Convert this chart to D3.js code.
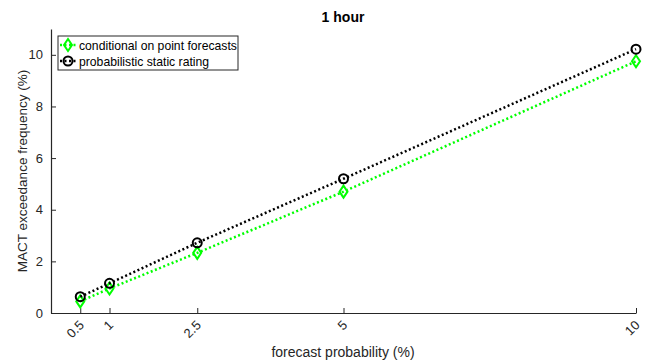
<!DOCTYPE html>
<html>
<head>
<meta charset="utf-8">
<script src="https://cdn.jsdelivr.net/npm/d3@7"></script>
<style>
  body { margin: 0; background: #fff; }
  text { font-family: "Liberation Sans", Arial, sans-serif; fill: #262626; }
</style>
</head>
<body>
<div id="chart"></div>
<script>
// forecast probability levels (x) and exceedance frequencies for the two methods
const probs = [0.5, 1, 2.5, 5, 10];
const xTicks = [0.5, 1, 2.5, 5, 10];
const yTicks = [0, 2, 4, 6, 8, 10];
const conditional = [0.45, 0.95, 2.33, 4.7, 9.75];
const staticRating = [0.63, 1.15, 2.72, 5.2, 10.22];
const seriesNames = ["conditional on point forecasts", "probabilistic static rating"];

const W = 654, H = 361;
const margin = { top: 29, right: 18, bottom: 48, left: 51 };
const width = W - margin.left - margin.right;
const height = H - margin.top - margin.bottom;

const svg = d3.select("#chart").append("svg")
    .attr("width", W)
    .attr("height", H);

const g = svg.append("g")
    .attr("transform", `translate(${margin.left},${margin.top})`);

const x = d3.scaleLinear().domain([0, 10]).range([0, 585]);
const y = d3.scaleLinear().domain([0, 11]).range([height, 0]);

// x axis (ticks point inward, labels rotated)
const xAxis = g.append("g")
    .attr("transform", `translate(0,${height})`)
    .call(d3.axisBottom(x).tickValues(xTicks).tickSize(-5).tickSizeOuter(0).tickFormat(d3.format("")));
xAxis.select(".domain").attr("stroke", "#262626").attr("stroke-width", 1.2);
xAxis.selectAll(".tick line").attr("stroke", "#262626");
xAxis.selectAll(".tick text")
    .attr("font-size", 13)
    .attr("text-anchor", "end")
    .attr("dy", null)
    .attr("y", 0)
    .attr("transform", "translate(4,13) rotate(-45)");

// y axis
const yAxis = g.append("g")
    .call(d3.axisLeft(y).tickValues(yTicks).tickSize(-5).tickSizeOuter(0));
yAxis.select(".domain").attr("stroke", "#262626").attr("stroke-width", 1.2);
yAxis.selectAll(".tick line").attr("stroke", "#262626");
yAxis.selectAll(".tick text").attr("font-size", 13).attr("x", -8);

// title and axis labels
svg.append("text")
    .attr("x", margin.left + 292).attr("y", 22)
    .attr("text-anchor", "middle")
    .attr("font-size", 14).attr("font-weight", "bold")
    .style("fill", "#000")
    .text("1 hour");

svg.append("text")
    .attr("x", margin.left + 292).attr("y", 357)
    .attr("text-anchor", "middle")
    .attr("font-size", 14)
    .text("forecast probability (%)");

svg.append("text")
    .attr("transform", `translate(27,${margin.top + height / 2}) rotate(-90)`)
    .attr("text-anchor", "middle")
    .attr("font-size", 13.5)
    .text("MACT exceedance frequency (%)");

const series = [
    { name: seriesNames[0], values: conditional, color: "#00ff00", marker: "diamond" },
    { name: seriesNames[1], values: staticRating, color: "#000000", marker: "circle" }
];

const line = d3.line()
    .x((d, i) => x(probs[i]))
    .y(d => y(d));

function drawMarker(sel, s, cx, cy) {
    if (s.marker === "circle") {
        sel.append("circle")
            .attr("cx", cx).attr("cy", cy).attr("r", 4.5)
            .attr("fill", "none").attr("stroke", s.color).attr("stroke-width", 2);
    } else {
        sel.append("path")
            .attr("d", `M${cx},${cy - 6}L${cx + 4},${cy}L${cx},${cy + 6}L${cx - 4},${cy}Z`)
            .attr("fill", "none").attr("stroke", s.color).attr("stroke-width", 2);
    }
}

series.forEach(s => {
    g.append("path")
        .datum(s.values)
        .attr("d", line)
        .attr("fill", "none")
        .attr("stroke", s.color)
        .attr("stroke-width", 2.5)
        .attr("stroke-dasharray", "2,2.5");
    const mg = g.append("g");
    s.values.forEach((v, i) => drawMarker(mg, s, x(probs[i]), y(v)));
});

// legend
const lg = svg.append("g").attr("transform", "translate(58,36)");
lg.append("rect")
    .attr("width", 180).attr("height", 34)
    .attr("fill", "#fff").attr("stroke", "#262626").attr("stroke-width", 1);
series.forEach((s, i) => {
    const cy = 9 + i * 16;
    lg.append("line")
        .attr("x1", 2).attr("x2", 18).attr("y1", cy).attr("y2", cy)
        .attr("stroke", s.color).attr("stroke-width", 2.5).attr("stroke-dasharray", "2,2.5");
    drawMarker(lg, s, 10, cy);
    lg.append("text")
        .attr("x", 21).attr("y", cy + 4.5)
        .attr("font-size", 12.2)
        .style("fill", "#000")
        .text(s.name);
});
</script>
</body>
</html>
